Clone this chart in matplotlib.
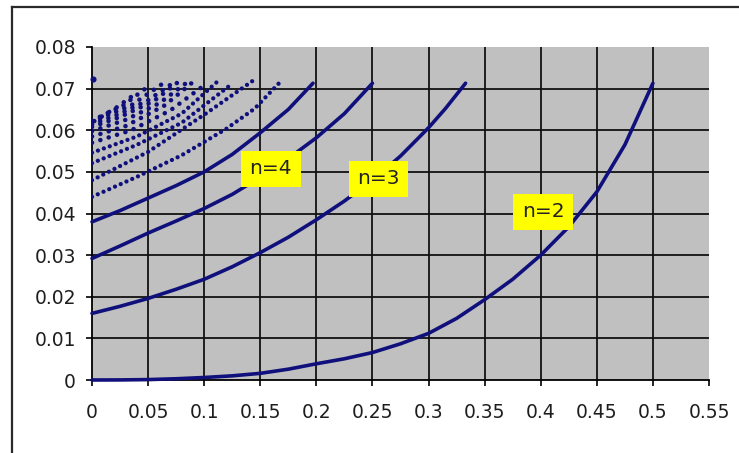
#!/usr/bin/env python3

# AA ======================= Library Imports =======================

import numpy as np
import matplotlib
matplotlib.use("Agg")
import matplotlib.pyplot as plt
from matplotlib.lines import Line2D

# AA ======================= Chart Data =============================================

# BB Axis Ticks
xTicks = [0, 0.05, 0.1, 0.15, 0.2, 0.25, 0.3, 0.35, 0.4, 0.45, 0.5, 0.55]
yTicks = [0, 0.01, 0.02, 0.03, 0.04, 0.05, 0.06, 0.07, 0.08]
xTickLabels = ["0", "0.05", "0.1", "0.15", "0.2", "0.25", "0.3", "0.35", "0.4", "0.45", "0.5", "0.55"]
yTickLabels = ["0", "0.01", "0.02", "0.03", "0.04", "0.05", "0.06", "0.07", "0.08"]

# BB Dense Curves (Drawn As Continuous Lines)
xN2 = [0, 0.025, 0.05, 0.075, 0.1, 0.125, 0.15, 0.175, 0.2, 0.225, 0.25, 0.275, 0.3,
       0.325, 0.35, 0.375, 0.4, 0.425, 0.45, 0.475, 0.5]
yN2 = [0, 0.00002, 0.0001, 0.0003, 0.0006, 0.0010, 0.0016, 0.0026, 0.0039, 0.0051, 0.0066, 0.0087, 0.0112,
       0.0148, 0.0193, 0.0242, 0.0300, 0.0368, 0.0452, 0.0565, 0.0713]

xN3 = [0, 0.025, 0.05, 0.075, 0.1, 0.125, 0.15, 0.175, 0.2, 0.225, 0.25, 0.275, 0.3, 0.315, 0.333]
yN3 = [0.0160, 0.0177, 0.0196, 0.0218, 0.0242, 0.0272, 0.0306, 0.0343, 0.0385, 0.0430, 0.0480, 0.0538,
       0.0606, 0.0652, 0.0713]

xN4 = [0, 0.025, 0.05, 0.075, 0.1, 0.125, 0.15, 0.175, 0.2, 0.225, 0.25]
yN4 = [0.0292, 0.0322, 0.0353, 0.0382, 0.0412, 0.0446, 0.0487, 0.0532, 0.0582, 0.0640, 0.0713]

xN5 = [0, 0.025, 0.05, 0.075, 0.1, 0.125, 0.15, 0.175, 0.197]
yN5 = [0.0380, 0.0407, 0.0437, 0.0467, 0.0500, 0.0542, 0.0594, 0.0650, 0.0713]

# BB Sparse Curves (Drawn As Dots)
xN6 = [0, 0.04, 0.08, 0.12, 0.145, 0.1667]
yN6 = [0.0440, 0.0488, 0.0540, 0.0604, 0.0652, 0.0713]

xN7 = [0, 0.05, 0.102, 0.1429]
yN7 = [0.0480, 0.0548, 0.0641, 0.0718]

xN8 = [0, 0.04, 0.08, 0.125]
yN8 = [0.0521, 0.0565, 0.0618, 0.0712]

xN9 = [0, 0.04, 0.08, 0.111]
yN9 = [0.0546, 0.0585, 0.0640, 0.0715]

xN10 = [0, 0.035, 0.07, 0.1]
yN10 = [0.0570, 0.0600, 0.0648, 0.0708]

xN11 = [0, 0.03, 0.065, 0.0909]
yN11 = [0.0585, 0.0610, 0.0660, 0.0718]

xN12 = [0, 0.03, 0.06, 0.0833]
yN12 = [0.0598, 0.0625, 0.0665, 0.0712]

xN13 = [0, 0.025, 0.055, 0.0769]
yN13 = [0.0608, 0.0632, 0.0670, 0.0716]

xN14 = [0, 0.025, 0.05, 0.0714]
yN14 = [0.0614, 0.0640, 0.0672, 0.0712]

xN16 = [0, 0.035, 0.0625]
yN16 = [0.0620, 0.0660, 0.0711]

xN20 = [0, 0.028, 0.05]
yN20 = [0.0623, 0.0660, 0.0705]

xN25 = [0.002, 0.022, 0.04]
yN25 = [0.0622, 0.0655, 0.0690]

# BB Isolated Limit Point
xLimit = [0.0009]
yLimit = [0.0724]

# BB Curve Labels
labelTexts = ["n=2", "n=3", "n=4"]

# AA ======================= Figure Setup =======================

figW, figH = 739, 453
fig = plt.figure(figsize=(figW / 100, figH / 100), dpi=100)
fig.patch.set_facecolor("white")

# BB Plot Area Placement In Pixels
leftPx, rightPx, topPx, bottomPx = 92, 709, 47, 380
ax = fig.add_axes([leftPx / figW, 1 - bottomPx / figH, (rightPx - leftPx) / figW, (bottomPx - topPx) / figH])
ax.set_facecolor("#c0c0c0")

# BB Outer Chart Frame (Cut Off At Right And Bottom)
frameColor = "#2a2a2a"
fig.add_artist(Line2D([12 / figW, 12 / figW], [1 - 7 / figH, 0], color=frameColor, lw=1.6, transform=fig.transFigure))
fig.add_artist(Line2D([12 / figW, 1], [1 - 7 / figH, 1 - 7 / figH], color=frameColor, lw=1.6, transform=fig.transFigure))

# AA ======================= Grid And Axes =======================

ax.set_xlim(xTicks[0], xTicks[-1])
ax.set_ylim(yTicks[0], yTicks[-1])

gridColor = "#111111"
for gx in xTicks[1:-1]:
    ax.axvline(gx, color=gridColor, lw=1.3, zorder=1)
for gy in yTicks[1:-1]:
    ax.axhline(gy, color=gridColor, lw=1.3, zorder=1)

ax.spines["top"].set_visible(False)
ax.spines["right"].set_visible(False)
ax.spines["left"].set_color("black")
ax.spines["bottom"].set_color("black")
ax.spines["left"].set_linewidth(1.3)
ax.spines["bottom"].set_linewidth(1.3)

ax.set_xticks(xTicks)
ax.set_xticklabels(xTickLabels)
ax.set_yticks(yTicks)
ax.set_yticklabels(yTickLabels)

for lab in ax.get_xticklabels() + ax.get_yticklabels():
    lab.set_fontfamily("DejaVu Sans")
    lab.set_fontsize(13.5)
    lab.set_color("#1e1e1e")
ax.tick_params(axis="x", direction="out", length=4.5, width=1.2, pad=12)
ax.tick_params(axis="y", direction="out", length=4.5, width=1.2, pad=7)

# AA ======================= Curves =======================

curveColor = "#10107c"

# BB Continuous Curves
for cx, cy in [(xN2, yN2), (xN3, yN3), (xN4, yN4), (xN5, yN5)]:
    ax.plot(cx, cy, color=curveColor, lw=2.6, solid_capstyle="round", solid_joinstyle="round", zorder=3, clip_on=False)

# BB Dotted Curves
for cx, cy in [(xN6, yN6), (xN7, yN7), (xN8, yN8), (xN9, yN9)]:
    ax.plot(cx, cy, color=curveColor, lw=3.1, linestyle=(0, (0.01, 1.45)), dash_capstyle="round", zorder=3)
for cx, cy in [(xN10, yN10), (xN11, yN11), (xN12, yN12), (xN13, yN13), (xN14, yN14),
               (xN16, yN16), (xN20, yN20), (xN25, yN25)]:
    ax.plot(cx, cy, color=curveColor, lw=3.3, linestyle=(0, (0.01, 1.9)), dash_capstyle="round", zorder=3)

ax.plot(xLimit, yLimit, "o", color=curveColor, markersize=3.4, zorder=3, clip_on=False)

# AA ======================= Curve Labels =======================

labelPositions = [(0.402, 0.0404), (0.2552, 0.0483), (0.1595, 0.0507)]
for text, (lx, ly) in zip(labelTexts, labelPositions):
    ax.text(lx, ly, text, ha="center", va="center", fontsize=14.5, family="DejaVu Sans", color="#222222",
            bbox=dict(boxstyle="square,pad=0.42", facecolor="#ffff00", edgecolor="none"), zorder=5)

fig.savefig("out.png", dpi=100)
